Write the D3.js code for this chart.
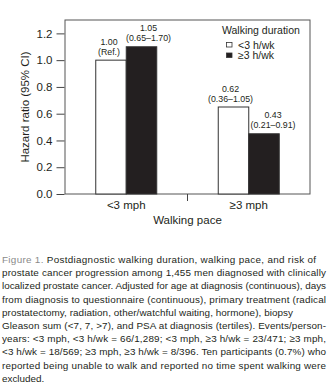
<!DOCTYPE html>
<html><head><meta charset="utf-8">
<script src="https://cdn.jsdelivr.net/npm/d3@7"></script>
<style>
html,body{margin:0;padding:0;background:#fff;}
svg{display:block;font-family:"Liberation Sans",Arial,sans-serif;}
</style></head>
<body><svg id="c" width="330" height="387"></svg>
<script>
const categories = ["<3 mph", "\u22653 mph"];
const seriesNames = ["<3 h/wk", "\u22653 h/wk"];
const hrLow = [1.0, 0.65];   // bar heights, <3 h/wk
const hrHigh = [1.1, 0.45];  // bar heights, ≥3 h/wk
const estLabels = [["1.00", "1.05"], ["0.62", "0.43"]];
const ciLabels = [["(Ref.)", "(0.65\u20131.70)"], ["(0.36\u20131.05)", "(0.21\u20130.91)"]];
const yTicks = [0, 0.2, 0.4, 0.6, 0.8, 1.0, 1.2];
const captionLines = [
  "Postdiagnostic walking duration, walking pace, and risk of",
  "prostate cancer progression among 1,455 men diagnosed with clinically",
  "localized prostate cancer. Adjusted for age at diagnosis (continuous), days",
  "from diagnosis to questionnaire (continuous), primary treatment (radical",
  "prostatectomy, radiation, other/watchful waiting, hormone), biopsy",
  "Gleason sum (<7, 7, >7), and PSA at diagnosis (tertiles). Events/person-",
  "years: <3 mph, <3 h/wk = 66/1,289; <3 mph, \u22653 h/wk = 23/471; \u22653 mph,",
  "<3 h/wk = 18/569; \u22653 mph, \u22653 h/wk = 8/396. Ten participants (0.7%) who",
  "reported being unable to walk and reported no time spent walking were",
  "excluded."
];

const svg = d3.select("#c");
const L = 65, R = 310, T = 20, B = 194;
const x0 = d3.scaleBand().domain(categories).range([L, R]);
const x1 = d3.scaleBand().domain(seriesNames).range([-30.5, 30.5]);
const y = d3.scaleLinear().domain([0, 1.3]).range([B, T]);
const fills = ["#ffffff", "#231f20"];
const ink = "#231f20";

// frame
svg.append("rect").attr("x", L).attr("y", T).attr("width", R - L).attr("height", B - T)
  .attr("fill", "none").attr("stroke", "#555").attr("stroke-width", 1);

// y axis
const yAxis = d3.axisLeft(y).tickValues(yTicks).tickFormat(d3.format(".1f")).tickSize(8).tickPadding(4);
const ga = svg.append("g").attr("transform", `translate(${L - 0.5},0)`).call(yAxis);
ga.select(".domain").remove();
ga.selectAll("line").attr("stroke", "#444");
ga.selectAll("text").attr("font-size", 11.5).attr("fill", ink).attr("font-family", "Liberation Sans, Arial, sans-serif");

// x axis middle tick & labels
const midX = (x0(categories[0]) + x0.bandwidth() + x0(categories[1])) / 2;
svg.append("line").attr("x1", midX).attr("x2", midX)
  .attr("y1", B).attr("y2", B + 7).attr("stroke", "#444");
categories.forEach(c => {
  svg.append("text").attr("x", x0(c) + x0.bandwidth() / 2).attr("y", 209)
    .attr("text-anchor", "middle").attr("font-size", 11.5).attr("fill", ink).text(c);
});
svg.append("text").attr("x", (L + R) / 2).attr("y", 224).attr("text-anchor", "middle")
  .attr("font-size", 11.5).attr("fill", ink).text("Walking pace");
svg.append("text").attr("transform", `translate(29,${(T + B) / 2}) rotate(-90)`)
  .attr("text-anchor", "middle").attr("font-size", 11.5).attr("fill", ink).text("Hazard ratio (95% CI)");

// bars
const labelDx = [[-2, 7], [-3, 9]];
categories.forEach((c, i) => {
  const vals = [hrLow[i], hrHigh[i]];
  seriesNames.forEach((s, j) => {
    const cx = x0(c) + x0.bandwidth() / 2;
    const bx = cx + x1(s);
    svg.append("rect").attr("x", bx).attr("y", y(vals[j])).attr("width", x1.bandwidth())
      .attr("height", y(0) - y(vals[j])).attr("fill", fills[j]).attr("stroke", "#333").attr("stroke-width", 1);
    const lx = bx + x1.bandwidth() / 2 + labelDx[i][j];
    svg.append("text").attr("x", lx).attr("y", y(vals[j]) - 15.5).attr("text-anchor", "middle")
      .attr("font-size", 8.8).attr("fill", ink).text(estLabels[i][j]);
    svg.append("text").attr("x", lx).attr("y", y(vals[j]) - 5.5).attr("text-anchor", "middle")
      .attr("font-size", 8.8).attr("fill", ink).text(ciLabels[i][j]);
  });
});

// legend
svg.append("text").attr("x", 222).attr("y", 34).attr("font-size", 10.5).attr("fill", ink).text("Walking duration");
seriesNames.forEach((s, j) => {
  const ly = 45 + j * 10.5;
  svg.append("rect").attr("x", 226.5).attr("y", ly - 2.5).attr("width", 5.5).attr("height", 4.5)
    .attr("fill", fills[j]).attr("stroke", "#333").attr("stroke-width", 0.8);
  svg.append("text").attr("x", 238).attr("y", ly + 3.5).attr("font-size", 10.5).attr("fill", ink).text(s);
});

// caption
const targets = [316, 326, 326, 326, 293, 326, 326, 326, 326, null];
captionLines.forEach((line, i) => {
  const t = svg.append("text").attr("x", 2).attr("y", 263 + i * 13.2).attr("font-size", 9.9).attr("fill", ink);
  if (i === 0) {
    t.append("tspan").attr("fill", "#8a8a8a").text("Figure 1. ");
    t.append("tspan").text(line);
  } else {
    t.text(line);
  }
  if (targets[i]) t.attr("textLength", targets[i] - 2).attr("lengthAdjust", "spacing");
});
</script></body></html>
